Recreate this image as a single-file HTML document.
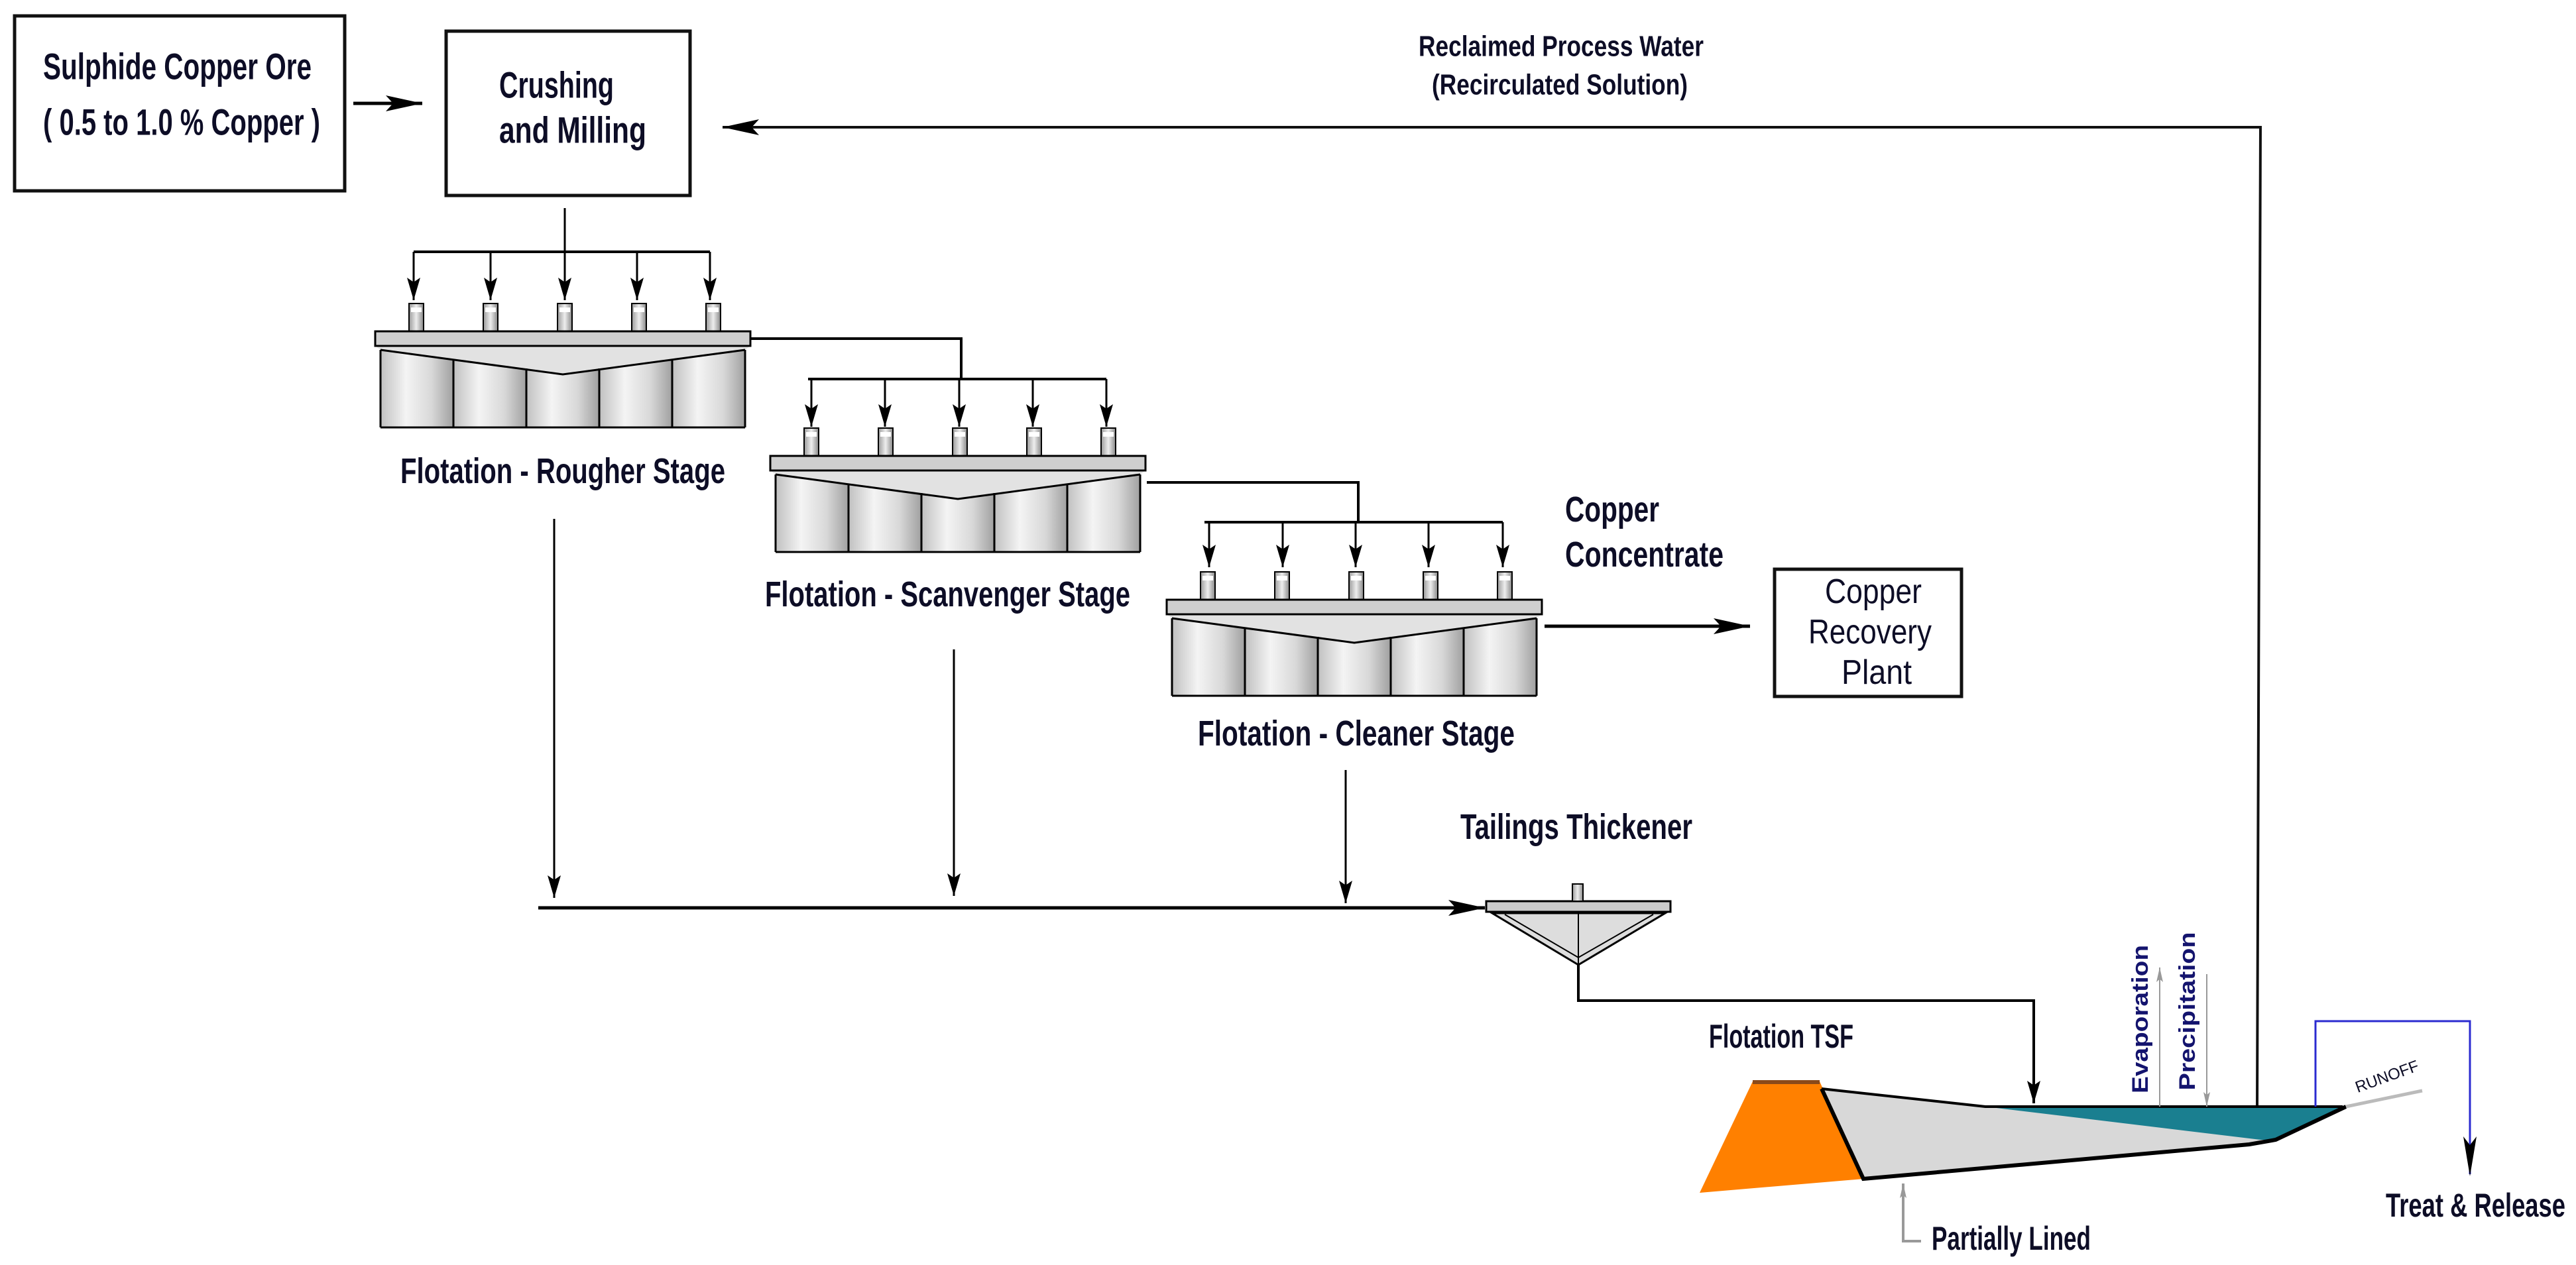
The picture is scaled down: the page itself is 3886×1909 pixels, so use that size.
<!DOCTYPE html>
<html><head><meta charset="utf-8"><style>
html,body{margin:0;padding:0;background:#fff;}
svg{display:block;}
text{font-family:"Liberation Sans Narrow","Liberation Sans",sans-serif;font-weight:bold;fill:#0d0d26;dominant-baseline:central;}
</style></head><body>
<svg width="3886" height="1909" viewBox="0 0 3886 1909" xmlns="http://www.w3.org/2000/svg">
<defs>
<linearGradient id="cyl" x1="0" x2="1" y1="0" y2="0">
<stop offset="0" stop-color="#c0c0c0"/><stop offset="0.35" stop-color="#f4f4f4"/><stop offset="0.7" stop-color="#d8d8d8"/><stop offset="1" stop-color="#a0a0a0"/>
</linearGradient>
<linearGradient id="spg" x1="0" x2="1"><stop offset="0" stop-color="#999"/><stop offset="0.5" stop-color="#eee"/><stop offset="1" stop-color="#888"/></linearGradient>
<marker id="am" viewBox="0 0 10 10" refX="10" refY="5" markerWidth="34" markerHeight="20" markerUnits="userSpaceOnUse" orient="auto" preserveAspectRatio="none"><path d="M0,0 L10,5 L0,10 L2,5 z" fill="#000"/></marker>
<marker id="ad" viewBox="0 0 10 10" refX="10" refY="5" markerWidth="55" markerHeight="24" markerUnits="userSpaceOnUse" orient="auto" preserveAspectRatio="none"><path d="M0,0 L10,5 L0,10 L2,5 z" fill="#000"/></marker>
<marker id="ag" viewBox="0 0 10 10" refX="10" refY="5" markerWidth="22" markerHeight="10" markerUnits="userSpaceOnUse" orient="auto" preserveAspectRatio="none"><path d="M0,0 L10,5 L0,10 L2,5 z" fill="#999"/></marker>
<g id="bank">
  <g stroke="#000" stroke-width="2">
    <rect x="51" y="-42" width="22" height="42" fill="url(#spg)"/><rect x="163" y="-42" width="22" height="42" fill="url(#spg)"/><rect x="275" y="-42" width="22" height="42" fill="url(#spg)"/><rect x="387" y="-42" width="22" height="42" fill="url(#spg)"/><rect x="499" y="-42" width="22" height="42" fill="url(#spg)"/>
  </g>
  <g fill="#fff"><rect x="54" y="-36" width="16" height="7"/><rect x="166" y="-36" width="16" height="7"/><rect x="278" y="-36" width="16" height="7"/><rect x="390" y="-36" width="16" height="7"/><rect x="502" y="-36" width="16" height="7"/></g>
  <rect x="8" y="22" width="110" height="123" fill="url(#cyl)"/><rect x="118" y="22" width="110" height="123" fill="url(#cyl)"/><rect x="228" y="22" width="110" height="123" fill="url(#cyl)"/><rect x="338" y="22" width="110" height="123" fill="url(#cyl)"/><rect x="448" y="22" width="110" height="123" fill="url(#cyl)"/>
  <polygon points="0,0 566,0 566,22 558,28 283,65 8,28 0,22" fill="#e2e2e2"/>
  <rect x="0" y="0" width="566" height="22" fill="#cfcfcf" stroke="#000" stroke-width="3"/>
  <polyline points="8,28 283,65 558,28" fill="none" stroke="#000" stroke-width="3"/>
  <g stroke="#000" stroke-width="3" fill="none">
    <line x1="8" y1="28" x2="8" y2="145"/><line x1="558" y1="28" x2="558" y2="145"/>
    <line x1="118" y1="42" x2="118" y2="145"/><line x1="228" y1="56" x2="228" y2="145"/><line x1="338" y1="56" x2="338" y2="145"/><line x1="448" y1="42" x2="448" y2="145"/>
    <line x1="8" y1="145" x2="558" y2="145"/>
  </g>
</g>
</defs>

<rect x="22" y="24" width="498" height="264" fill="#fff" stroke="#111" stroke-width="5"/>
<text x="65" y="100" textLength="405" lengthAdjust="spacingAndGlyphs" font-size="56">Sulphide Copper Ore</text>
<text x="65" y="184" textLength="418" lengthAdjust="spacingAndGlyphs" font-size="56">( 0.5 to 1.0 % Copper )</text>
<rect x="673" y="47" width="368" height="248" fill="#fff" stroke="#111" stroke-width="5"/>
<text x="753" y="128" textLength="173" lengthAdjust="spacingAndGlyphs" font-size="56">Crushing</text>
<text x="753" y="196" textLength="222" lengthAdjust="spacingAndGlyphs" font-size="56">and Milling</text>
<line x1="533" y1="156" x2="637" y2="156" stroke="#000" stroke-width="5" marker-end="url(#ad)"/>

<polyline points="3405,1668 3410,192 1090,192" fill="none" stroke="#111" stroke-width="4" marker-end="url(#ad)"/>
<text x="2140" y="70" textLength="430" lengthAdjust="spacingAndGlyphs" font-size="44">Reclaimed Process Water</text>
<text x="2160" y="128" textLength="386" lengthAdjust="spacingAndGlyphs" font-size="44">(Recirculated Solution)</text>

<line x1="852" y1="314" x2="852" y2="380" stroke="#000" stroke-width="3"/>
<line x1="624" y1="380" x2="1071" y2="380" stroke="#000" stroke-width="4"/>
<g stroke="#000" stroke-width="3"><line x1="624" y1="380" x2="624" y2="453" marker-end="url(#am)"/><line x1="740" y1="380" x2="740" y2="453" marker-end="url(#am)"/><line x1="852" y1="380" x2="852" y2="453" marker-end="url(#am)"/><line x1="961" y1="380" x2="961" y2="453" marker-end="url(#am)"/><line x1="1071" y1="380" x2="1071" y2="453" marker-end="url(#am)"/></g>
<use href="#bank" x="566" y="500"/>
<text x="604" y="711" textLength="490" lengthAdjust="spacingAndGlyphs" font-size="54">Flotation - Rougher Stage</text>

<polyline points="1131,511 1450,511 1450,572" fill="none" stroke="#000" stroke-width="4"/>
<line x1="1219" y1="572" x2="1669" y2="572" stroke="#000" stroke-width="4"/>
<g stroke="#000" stroke-width="3"><line x1="1224" y1="572" x2="1224" y2="644" marker-end="url(#am)"/><line x1="1335" y1="572" x2="1335" y2="644" marker-end="url(#am)"/><line x1="1447" y1="572" x2="1447" y2="644" marker-end="url(#am)"/><line x1="1558" y1="572" x2="1558" y2="644" marker-end="url(#am)"/><line x1="1669" y1="572" x2="1669" y2="644" marker-end="url(#am)"/></g>
<use href="#bank" x="1162" y="688"/>
<text x="1154" y="897" textLength="551" lengthAdjust="spacingAndGlyphs" font-size="54">Flotation - Scanvenger Stage</text>

<polyline points="1730,728 2049,728 2049,788" fill="none" stroke="#000" stroke-width="4"/>
<line x1="1817" y1="788" x2="2267" y2="788" stroke="#000" stroke-width="4"/>
<g stroke="#000" stroke-width="3"><line x1="1824" y1="788" x2="1824" y2="856" marker-end="url(#am)"/><line x1="1935" y1="788" x2="1935" y2="856" marker-end="url(#am)"/><line x1="2045" y1="788" x2="2045" y2="856" marker-end="url(#am)"/><line x1="2155" y1="788" x2="2155" y2="856" marker-end="url(#am)"/><line x1="2267" y1="788" x2="2267" y2="856" marker-end="url(#am)"/></g>
<use href="#bank" x="1760" y="905"/>
<text x="1807" y="1107" textLength="478" lengthAdjust="spacingAndGlyphs" font-size="54">Flotation - Cleaner Stage</text>

<text x="2361" y="769" textLength="142" lengthAdjust="spacingAndGlyphs" font-size="54">Copper</text>
<text x="2361" y="837" textLength="239" lengthAdjust="spacingAndGlyphs" font-size="54">Concentrate</text>
<line x1="2330" y1="945" x2="2640" y2="945" stroke="#000" stroke-width="5" marker-end="url(#ad)"/>
<rect x="2677" y="859" width="282" height="192" fill="#fff" stroke="#111" stroke-width="5"/>
<text x="2753" y="893" textLength="146" lengthAdjust="spacingAndGlyphs" font-size="52" style="font-weight:normal">Copper</text>
<text x="2728" y="954" textLength="186" lengthAdjust="spacingAndGlyphs" font-size="52" style="font-weight:normal">Recovery</text>
<text x="2778" y="1015" textLength="106" lengthAdjust="spacingAndGlyphs" font-size="52" style="font-weight:normal">Plant</text>

<g stroke="#000" stroke-width="3">
<line x1="836" y1="783" x2="836" y2="1355" marker-end="url(#am)"/>
<line x1="1439" y1="980" x2="1439" y2="1352" marker-end="url(#am)"/>
<line x1="2030" y1="1162" x2="2030" y2="1363" marker-end="url(#am)"/>
</g>
<line x1="812" y1="1370" x2="2240" y2="1370" stroke="#000" stroke-width="5" marker-end="url(#ad)"/>
<text x="2203" y="1248" textLength="350" lengthAdjust="spacingAndGlyphs" font-size="54">Tailings Thickener</text>
<polygon points="2251,1378 2512,1378 2381,1456" fill="#ddd" stroke="#000" stroke-width="3"/>
<polyline points="2270,1380 2381,1445 2494,1380" fill="none" stroke="#000" stroke-width="2"/>
<line x1="2381" y1="1378" x2="2381" y2="1456" stroke="#000" stroke-width="2"/>
<rect x="2242" y="1360" width="278" height="16" fill="#ccc" stroke="#000" stroke-width="3"/>
<rect x="2372" y="1334" width="16" height="26" fill="url(#spg)" stroke="#000" stroke-width="2"/>
<polyline points="2381,1456 2381,1510 3068,1510 3068,1665" fill="none" stroke="#000" stroke-width="4" marker-end="url(#am)"/>

<text x="2578" y="1564" textLength="218" lengthAdjust="spacingAndGlyphs" font-size="50">Flotation TSF</text>
<polygon points="2644,1632 2745,1632 2811,1779 2564,1800" fill="#ff8000"/>
<rect x="2644" y="1630" width="101" height="6" fill="#8a4a1a"/>
<polygon points="2748,1643 2995,1670 3534,1670 3433,1720 3393,1727 2811,1779" fill="#d8d8d8"/>
<polygon points="2995,1670 3534,1670 3433,1720 3410,1720" fill="#1a7f90"/>
<polyline points="2748,1643 2995,1670 3534,1670" fill="none" stroke="#000" stroke-width="4"/>
<polyline points="2748,1643 2811,1779 3393,1727 3433,1720 3539,1670" fill="none" stroke="#000" stroke-width="6"/>
<line x1="3539" y1="1670" x2="3654" y2="1646" stroke="#bbb" stroke-width="5"/>
<text x="3601" y="1625" font-size="24" style="font-weight:normal" transform="rotate(-20 3601 1625)" text-anchor="middle">RUNOFF</text>
<polyline points="3493,1670 3493,1541 3726,1541 3726,1772" fill="none" stroke="#2b2bd0" stroke-width="3"/>
<path d="M3716,1715 L3726,1775 L3736,1715 L3726,1728 z" fill="#000"/>
<text x="3599" y="1819" textLength="271" lengthAdjust="spacingAndGlyphs" font-size="50">Treat &amp; Release</text>
<polyline points="2898,1873 2871,1873 2871,1786" fill="none" stroke="#999" stroke-width="4" marker-end="url(#ag)"/>
<text x="2914" y="1869" textLength="240" lengthAdjust="spacingAndGlyphs" font-size="50">Partially Lined</text>
<line x1="3258" y1="1670" x2="3258" y2="1460" stroke="#999" stroke-width="2" marker-end="url(#ag)"/>
<line x1="3329" y1="1470" x2="3329" y2="1670" stroke="#999" stroke-width="2" marker-end="url(#ag)"/>
<text x="3229" y="1538" text-anchor="middle" font-size="34" style="font-family:'Liberation Sans',sans-serif;fill:#14146e" transform="rotate(-90 3229 1538)" textLength="224" lengthAdjust="spacingAndGlyphs">Evaporation</text>
<text x="3300" y="1526" text-anchor="middle" font-size="34" style="font-family:'Liberation Sans',sans-serif;fill:#14146e" transform="rotate(-90 3300 1526)" textLength="239" lengthAdjust="spacingAndGlyphs">Precipitation</text>
</svg>
</body></html>
